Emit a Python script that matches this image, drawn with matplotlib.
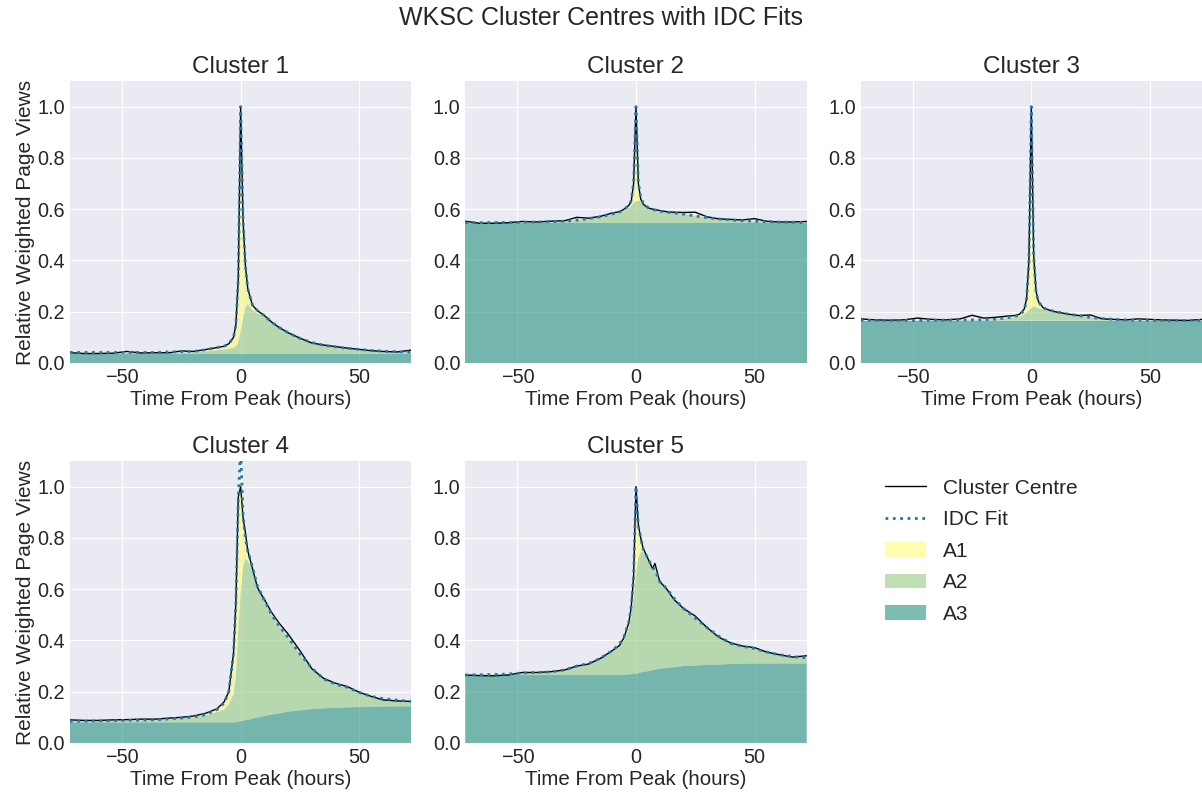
import numpy as np
import matplotlib
matplotlib.use("Agg")
import matplotlib.pyplot as plt
from matplotlib.lines import Line2D
from matplotlib.patches import Patch

# hours from peak (knots)
hours = [-72, -66, -60, -54, -48, -42, -36, -30, -25, -20, -15, -10, -7, -5, -3, -2, -1,
         0, 1, 2, 3, 5, 7, 8, 10, 13, 16, 20, 25, 30, 35, 40, 45, 50, 55, 60, 66, 72]

# cluster 1
c1_centre = [0.040, 0.037, 0.037, 0.038, 0.045, 0.039, 0.040, 0.040, 0.047, 0.045, 0.052, 0.060, 0.065,
             0.075, 0.100, 0.150, 0.330, 1.000, 0.560, 0.380, 0.290, 0.225, 0.205, 0.198, 0.185, 0.160,
             0.140, 0.118, 0.097, 0.078, 0.070, 0.064, 0.058, 0.053, 0.048, 0.045, 0.043, 0.050]
c1_a1 = [0.002, 0.002, 0.002, 0.002, 0.002, 0.002, 0.002, 0.003, 0.003, 0.003, 0.006, 0.010, 0.012,
         0.020, 0.040, 0.085, 0.250, 0.875, 0.385, 0.165, 0.060, 0.020, 0.010, 0.008, 0.005, 0.003,
         0.002, 0.001, 0, 0, 0, 0, 0, 0, 0, 0, 0, 0]
c1_a2 = [0.004, 0.004, 0.004, 0.004, 0.004, 0.004, 0.004, 0.005, 0.006, 0.007, 0.010, 0.015, 0.018,
         0.020, 0.025, 0.030, 0.045, 0.090, 0.140, 0.180, 0.195, 0.170, 0.160, 0.155, 0.145, 0.122,
         0.103, 0.082, 0.061, 0.045, 0.034, 0.028, 0.022, 0.018, 0.014, 0.011, 0.009, 0.007]
c1_a3 = [0.035] * 38

# cluster 2
c2_centre = [0.553, 0.545, 0.545, 0.547, 0.552, 0.550, 0.553, 0.555, 0.568, 0.565, 0.572, 0.585, 0.590,
             0.600, 0.615, 0.630, 0.700, 1.000, 0.700, 0.640, 0.620, 0.605, 0.600, 0.598, 0.595, 0.590,
             0.588, 0.587, 0.588, 0.570, 0.562, 0.560, 0.558, 0.563, 0.553, 0.550, 0.550, 0.552]
c2_a1 = [0, 0, 0, 0, 0, 0, 0, 0, 0, 0, 0, 0.001, 0.002, 0.004, 0.010, 0.020, 0.080, 0.370, 0.070,
         0.015, 0.005, 0.002, 0.001, 0.001, 0, 0, 0, 0, 0, 0, 0, 0, 0, 0, 0, 0, 0, 0]
c2_a2 = [0.002, 0.002, 0.003, 0.003, 0.004, 0.005, 0.006, 0.008, 0.012, 0.018, 0.025, 0.035, 0.042,
         0.050, 0.060, 0.068, 0.078, 0.085, 0.088, 0.085, 0.075, 0.060, 0.053, 0.051, 0.047, 0.043,
         0.040, 0.036, 0.028, 0.022, 0.017, 0.013, 0.010, 0.008, 0.006, 0.005, 0.004, 0.003]
c2_a3 = [0.545] * 38

# cluster 3
c3_centre = [0.172, 0.168, 0.167, 0.168, 0.175, 0.170, 0.168, 0.172, 0.186, 0.175, 0.178, 0.183, 0.185,
             0.190, 0.210, 0.250, 0.400, 1.000, 0.420, 0.280, 0.240, 0.215, 0.208, 0.205, 0.200, 0.195,
             0.190, 0.185, 0.187, 0.172, 0.170, 0.168, 0.172, 0.170, 0.168, 0.167, 0.166, 0.170]
c3_a1 = [0, 0, 0, 0, 0, 0, 0, 0, 0, 0, 0, 0.002, 0.004, 0.006, 0.015, 0.050, 0.190, 0.785, 0.200,
         0.060, 0.025, 0.007, 0.003, 0.002, 0.001, 0, 0, 0, 0, 0, 0, 0, 0, 0, 0, 0, 0, 0]
c3_a2 = [0.001, 0.001, 0.001, 0.001, 0.001, 0.002, 0.002, 0.003, 0.003, 0.004, 0.006, 0.010, 0.013,
         0.016, 0.025, 0.032, 0.042, 0.050, 0.055, 0.052, 0.048, 0.043, 0.040, 0.038, 0.035, 0.030,
         0.025, 0.020, 0.013, 0.008, 0.005, 0.003, 0.002, 0.001, 0.001, 0.001, 0.001, 0.001]
c3_a3 = [0.165] * 38

# cluster 4
c4_centre = [0.090, 0.088, 0.088, 0.090, 0.091, 0.093, 0.093, 0.097, 0.100, 0.105, 0.115, 0.133, 0.160,
             0.200, 0.350, 0.550, 0.960, 1.000, 0.880, 0.820, 0.750, 0.680, 0.610, 0.590, 0.560, 0.510,
             0.470, 0.425, 0.360, 0.290, 0.252, 0.233, 0.220, 0.198, 0.182, 0.168, 0.164, 0.162]
c4_a1 = [0, 0, 0, 0, 0, 0, 0, 0, 0, 0.001, 0.002, 0.010, 0.025, 0.050, 0.160, 0.290, 0.520, 0.565,
         0.200, 0.080, 0.040, 0.010, 0.005, 0.004, 0.002, 0.001, 0, 0, 0, 0, 0, 0, 0, 0, 0, 0, 0, 0]
c4_a2 = [0.005, 0.005, 0.006, 0.007, 0.008, 0.009, 0.010, 0.014, 0.017, 0.020, 0.028, 0.040, 0.050,
         0.070, 0.110, 0.180, 0.350, 0.500, 0.600, 0.630, 0.620, 0.580, 0.510, 0.490, 0.450, 0.390,
         0.345, 0.290, 0.220, 0.160, 0.115, 0.092, 0.078, 0.057, 0.041, 0.031, 0.024, 0.019]
c4_a3 = [0.080, 0.080, 0.080, 0.080, 0.080, 0.080, 0.080, 0.080, 0.080, 0.080, 0.080, 0.080, 0.080,
         0.080, 0.080, 0.081, 0.083, 0.085, 0.087, 0.089, 0.090, 0.095, 0.099, 0.101, 0.105, 0.110,
         0.115, 0.122, 0.127, 0.132, 0.135, 0.137, 0.139, 0.140, 0.141, 0.142, 0.143, 0.143]

# cluster 5
c5_centre = [0.265, 0.263, 0.262, 0.265, 0.275, 0.275, 0.278, 0.285, 0.300, 0.308, 0.330, 0.360, 0.380,
             0.412, 0.470, 0.530, 0.650, 1.000, 0.850, 0.800, 0.760, 0.720, 0.680, 0.700, 0.630, 0.600,
             0.560, 0.525, 0.495, 0.450, 0.412, 0.390, 0.378, 0.372, 0.355, 0.345, 0.335, 0.340]
c5_a1 = [0, 0, 0, 0, 0, 0, 0, 0, 0, 0, 0, 0.005, 0.010, 0.015, 0.025, 0.045, 0.090, 0.340, 0.125,
         0.055, 0.010, 0, 0, 0, 0, 0, 0, 0, 0, 0, 0, 0, 0, 0, 0, 0, 0, 0]
c5_a2 = [0.000, 0.001, 0.002, 0.004, 0.008, 0.010, 0.012, 0.020, 0.035, 0.045, 0.065, 0.090, 0.110,
         0.135, 0.180, 0.220, 0.290, 0.390, 0.450, 0.470, 0.470, 0.440, 0.400, 0.390, 0.340, 0.310,
         0.270, 0.225, 0.185, 0.145, 0.110, 0.080, 0.068, 0.058, 0.045, 0.035, 0.027, 0.022]
c5_a3 = [0.265, 0.265, 0.265, 0.265, 0.265, 0.265, 0.265, 0.265, 0.265, 0.265, 0.265, 0.265, 0.265,
         0.266, 0.267, 0.268, 0.269, 0.270, 0.272, 0.275, 0.277, 0.280, 0.284, 0.286, 0.290, 0.292,
         0.295, 0.300, 0.302, 0.305, 0.306, 0.308, 0.309, 0.310, 0.310, 0.310, 0.310, 0.310]

clusters = [
    (c1_centre, c1_a1, c1_a2, c1_a3),
    (c2_centre, c2_a1, c2_a2, c2_a3),
    (c3_centre, c3_a1, c3_a2, c3_a3),
    (c4_centre, c4_a1, c4_a2, c4_a3),
    (c5_centre, c5_a1, c5_a2, c5_a3),
]

col_a1 = '#fffa7a'
col_a2 = '#96cb82'
col_a3 = '#25937f'
fill_alpha = 0.6

plt.style.use('seaborn-v0_8-darkgrid')
plt.rcParams['font.family'] = ['Liberation Sans', 'DejaVu Sans']
plt.rcParams['text.color'] = '.15'
plt.rcParams['axes.labelcolor'] = '.15'
plt.rcParams['xtick.color'] = '.15'
plt.rcParams['ytick.color'] = '.15'

fig, axes = plt.subplots(2, 3, figsize=(12.02, 7.97), dpi=100)
fig.subplots_adjust(left=0.0582, right=1.0, top=0.8984, bottom=0.0678, wspace=0.158, hspace=0.3475)

x = np.array(hours)
for i, (centre, a1, a2, a3) in enumerate(clusters):
    ax = axes.flat[i]
    a1 = np.array(a1)
    a2 = np.array(a2)
    a3 = np.array(a3)
    ax.stackplot(x, a3, a2, a1, colors=[col_a3, col_a2, col_a1], alpha=fill_alpha, linewidth=0)
    ax.plot(x, centre, color='black', linewidth=1)
    ax.plot(x, a1 + a2 + a3, color='#1f77b4', linestyle=':', linewidth=2)
    ax.set_xlim(-72, 72)
    ax.set_ylim(0, 1.1)
    ax.set_yticks([0.0, 0.2, 0.4, 0.6, 0.8, 1.0])
    ax.set_xticks([-50, 0, 50])
    ax.tick_params(labelsize=14.3)
    ax.set_title('Cluster %d' % (i + 1), fontsize=17.5)
    ax.set_xlabel('Time From Peak (hours)', fontsize=14.8, labelpad=2)
    if i % 3 == 0:
        ax.set_ylabel('Relative Weighted Page Views', fontsize=15, labelpad=2)

axes.flat[5].axis('off')

handles = [
    Line2D([], [], color='black', linewidth=1),
    Line2D([], [], color='#1f77b4', linestyle=':', linewidth=2),
    Patch(facecolor=col_a1, alpha=fill_alpha),
    Patch(facecolor=col_a2, alpha=fill_alpha),
    Patch(facecolor=col_a3, alpha=fill_alpha),
]
fig.legend(handles, ['Cluster Centre', 'IDC Fit', 'A1', 'A2', 'A3'], loc='upper left',
           bbox_to_anchor=(0.7205, 0.423), frameon=False, fontsize=15, labelspacing=0.6)

fig.suptitle('WKSC Cluster Centres with IDC Fits', fontsize=18, y=0.993)

fig.savefig('out.png', dpi=100)
